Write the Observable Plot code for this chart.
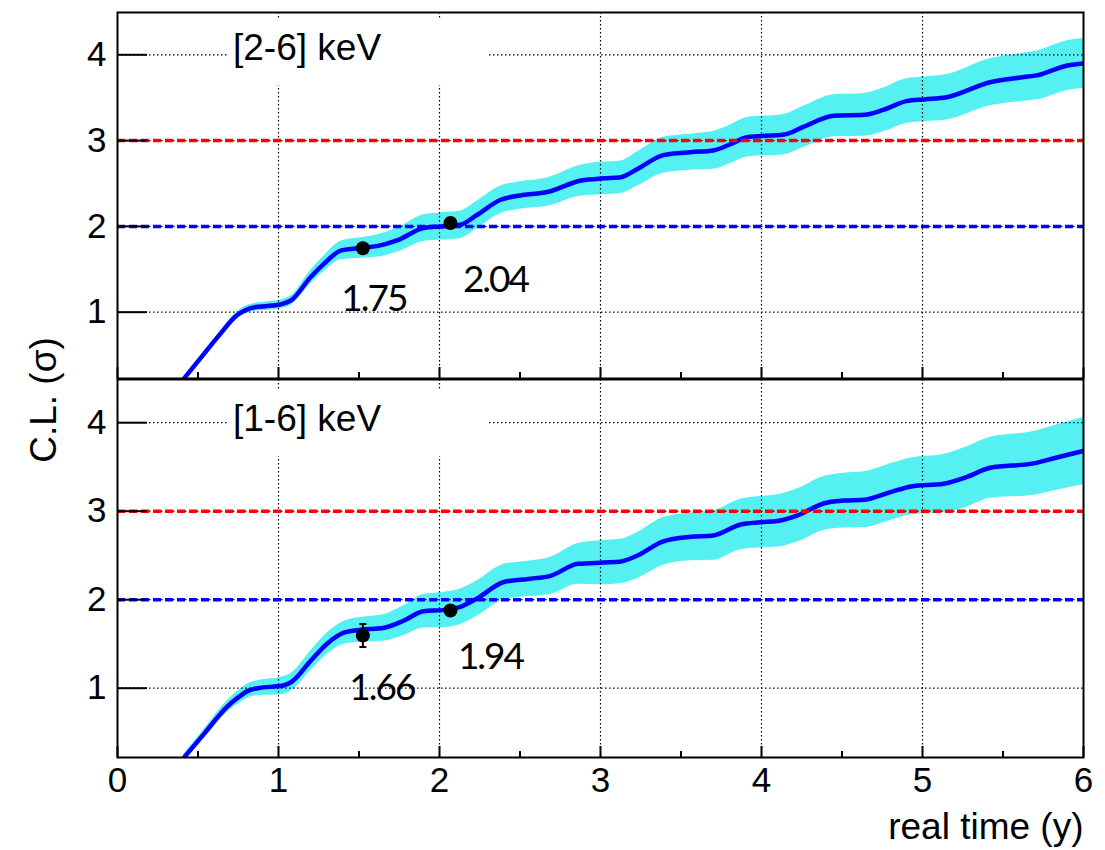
<!DOCTYPE html>
<html><head><meta charset="utf-8">
<script src="https://cdn.jsdelivr.net/npm/d3@7"></script>
<script src="https://cdn.jsdelivr.net/npm/@observablehq/plot@0.6"></script>
<style>
body{margin:0;background:#fff;}
#wrap{position:relative;width:1105px;height:850px;font-family:"Liberation Sans",Arial,sans-serif;background:#fff;}
#wrap svg{position:absolute;left:0;}
.box{position:absolute;background:#fff;font-size:37px;line-height:1;white-space:nowrap;box-sizing:border-box;}
.ylab{position:absolute;font-size:37px;white-space:nowrap;transform:translate(-50%,-50%) rotate(-90deg);line-height:1;}
g[font-family="Lato"] text{letter-spacing:-2px;}
</style></head>
<body><div id="wrap"></div>
<script>
// ---- data ----
const xTicks = [0, 1, 2, 3, 4, 5, 6];
const xMinor = [0.5, 1.5, 2.5, 3.5, 4.5, 5.5];
const yTicks = [1, 2, 3, 4];
const gridXs = [1, 2, 3, 4, 5];
const panelLabels = ["[2-6] keV", "[1-6] keV"];
const yLabel = "C.L. (σ)";
const xLabel = "real time (y)";
const threshold3 = [3];
const threshold2 = [2];

// top panel [2-6] keV
const topX  = [0.41,0.54,0.64,0.74,0.79,0.86,0.92,1.01,1.08,1.2,1.28,1.39,1.52,1.61,1.74,1.9,2.01,2.13,2.23,2.38,2.5,2.67,2.88,3.02,3.12,3.23,3.39,3.56,3.7,3.81,3.91,4.14,4.26,4.45,4.64,4.76,4.9,5.01,5.15,5.42,5.63,5.71,5.9,6.0];
const topCL = [0.22,0.52,0.75,0.96,1.02,1.06,1.07,1.09,1.14,1.41,1.56,1.72,1.75,1.77,1.84,1.98,2.0,2.02,2.13,2.31,2.36,2.40,2.535,2.56,2.57,2.67,2.83,2.865,2.885,2.96,3.04,3.07,3.16,3.29,3.30,3.36,3.46,3.48,3.505,3.68,3.74,3.76,3.875,3.90];
const topHW = [0.02,0.03,0.035,0.04,0.045,0.045,0.05,0.05,0.055,0.08,0.09,0.11,0.12,0.13,0.14,0.155,0.16,0.16,0.16,0.16,0.16,0.165,0.18,0.19,0.19,0.2,0.21,0.21,0.22,0.225,0.23,0.235,0.24,0.245,0.25,0.255,0.26,0.26,0.265,0.275,0.28,0.285,0.29,0.29];
const topPtX = [1.524, 2.068];
const topPtY = [1.746, 2.04];
const topPtErr = [0, 0];
const topPtLabels = ["1.75", "2.04"];

// bottom panel [1-6] keV
const botX  = [0.41,0.54,0.68,0.76,0.81,0.87,1.03,1.08,1.2,1.3,1.41,1.51,1.65,1.78,1.9,2.03,2.13,2.23,2.4,2.55,2.69,2.86,3.02,3.12,3.23,3.39,3.56,3.7,3.87,3.99,4.1,4.22,4.39,4.51,4.64,4.8,4.93,5.13,5.28,5.42,5.69,5.84,6.0];
const botCL = [0.21,0.49,0.79,0.91,0.97,1.0,1.03,1.07,1.31,1.5,1.63,1.66,1.68,1.765,1.87,1.885,1.92,2.01,2.2,2.235,2.27,2.405,2.42,2.43,2.5,2.66,2.71,2.725,2.85,2.875,2.89,2.95,3.09,3.12,3.13,3.215,3.28,3.31,3.39,3.49,3.54,3.61,3.68];
const botHW = [0.04,0.05,0.065,0.075,0.08,0.085,0.1,0.1,0.11,0.12,0.13,0.14,0.15,0.17,0.19,0.2,0.2,0.2,0.2,0.2,0.21,0.23,0.25,0.25,0.26,0.27,0.27,0.28,0.285,0.29,0.295,0.3,0.305,0.31,0.315,0.32,0.32,0.33,0.34,0.345,0.36,0.37,0.38];
const botPtX = [1.524, 2.068];
const botPtY = [1.595, 1.878];
const botPtErr = [0.13, 0.04];
const botPtLabels = ["1.66", "1.94"];

// ---- styles ----
const W = 1105, ML = 117, MR = 22;
const plotW = W - ML - MR;
const bandColor = "#55f0f2";
const curveColor = "#0000ff";
const capSymbol = {draw(ctx, size) { const w = Math.sqrt(size / Math.PI); ctx.moveTo(-w, 0); ctx.lineTo(w, 0); }};

function panel(o) {
  const rows = o.xs.map((x, i) => ({x, y: o.cl[i], lo: o.cl[i] - o.hw[i], hi: o.cl[i] + o.hw[i]}));
  const pts = o.px.map((x, i) => ({x, y: o.py[i], lo: o.py[i] - o.pe[i], hi: o.py[i] + o.pe[i], label: o.labels[i]}));
  const plotH = o.height - o.mt - o.mb;
  const grid = {stroke: "#000", strokeOpacity: 1, strokeWidth: 1.2, strokeDasharray: "1.5,2.5"};
  const marks = [
    Plot.areaY(rows, {x: "x", y1: "lo", y2: "hi", fill: bandColor, curve: "monotone-x", clip: true}),
    Plot.gridX(gridXs, grid),
    Plot.gridY(yTicks, grid),
    Plot.lineY(rows, {x: "x", y: "y", stroke: curveColor, strokeWidth: 4.5, curve: "monotone-x", clip: true}),
    Plot.ruleY(threshold3, {stroke: "#ff0000", strokeWidth: 3.5, strokeDasharray: "8,4"}),
    Plot.ruleY(threshold2, {stroke: "#0000ff", strokeWidth: 3.5, strokeDasharray: "8,4"}),
    Plot.ruleY(yTicks, {stroke: "#000", strokeWidth: 2, insetRight: plotW - 30}),
    Plot.ruleX(xTicks, {stroke: "#000", strokeWidth: 2, insetTop: plotH - 11}),
    Plot.ruleX(xMinor, {stroke: "#000", strokeWidth: 2, insetTop: plotH - 6}),
    Plot.frame({stroke: "#000", strokeWidth: 2}),
    Plot.ruleX(pts.filter(d => d.hi > d.lo), {x: "x", y1: "lo", y2: "hi", stroke: "#000", strokeWidth: 2}),
    Plot.dot(pts.filter(d => d.hi > d.lo), {x: "x", y: "lo", symbol: capSymbol, r: 3.5, stroke: "#000", strokeWidth: 2}),
    Plot.dot(pts.filter(d => d.hi > d.lo), {x: "x", y: "hi", symbol: capSymbol, r: 3.5, stroke: "#000", strokeWidth: 2}),
    Plot.dot(pts, {x: "x", y: "y", r: 7, fill: "#000", stroke: "none"}),
    Plot.text([pts[0]], {x: "x", y: "y", text: "label", dx: o.l0[0], dy: o.l0[1], fontSize: 37, fontFamily: "Lato", fill: "#000"}),
    Plot.text([pts[1]], {x: "x", y: "y", text: "label", dx: o.l1[0], dy: o.l1[1], fontSize: 37, fontFamily: "Lato", fill: "#000"}),
    Plot.axisY({ticks: yTicks, tickSize: 0, tickPadding: 11, fontSize: 35, label: null, tickFormat: d => String(d)})
  ];
  if (o.bottom) {
    marks.push(Plot.axisX({ticks: xTicks, tickSize: 0, tickPadding: 10, fontSize: 35, label: null, tickFormat: d => String(d)}));
    marks.push(Plot.text([xLabel], {frameAnchor: "bottom-right", dy: 81, lineAnchor: "bottom", textAnchor: "end", fontSize: 37, fill: "#000"}));
  }
  return Plot.plot({
    width: W, height: o.height,
    marginLeft: ML, marginRight: MR, marginTop: o.mt, marginBottom: o.mb,
    style: {fontFamily: "Liberation Sans, Arial, sans-serif", color: "#000", background: "#fff", overflow: "visible"},
    x: {domain: [0, 6], axis: o.bottom ? undefined : null},
    y: {domain: o.domain},
    marks
  });
}

const wrap = document.getElementById("wrap");
const top1 = panel({xs: topX, cl: topCL, hw: topHW, px: topPtX, py: topPtY, pe: topPtErr, labels: topPtLabels,
  domain: [0.227, 4.493], height: 379, mt: 12, mb: 1, bottom: false, l0: [11, 51], l1: [45, 57]});
top1.style.top = "0px";
wrap.appendChild(top1);
const bot1 = panel({xs: botX, cl: botCL, hw: botHW, px: botPtX, py: botPtY, pe: botPtErr, labels: botPtLabels,
  domain: [0.217, 4.488], height: 471, mt: 0, mb: 93, bottom: true, l0: [19, 53], l1: [40, 47]});
bot1.style.top = "379px";
wrap.appendChild(bot1);

// panel label boxes (white, hiding the grid like the original pave)
[[20, panelLabels[0]], [391, panelLabels[1]]].forEach(([t, txt]) => {
  const b = document.createElement("div");
  b.className = "box";
  b.style.left = "228px"; b.style.top = t + "px"; b.style.width = "259px"; b.style.height = "65px";
  b.style.paddingLeft = "5px"; b.style.paddingTop = "9px";
  b.textContent = txt;
  wrap.appendChild(b);
});
const yl = document.createElement("div");
yl.className = "ylab";
yl.style.left = "43px"; yl.style.top = "400px";
yl.textContent = yLabel;
wrap.appendChild(yl);
</script>
</body></html>
